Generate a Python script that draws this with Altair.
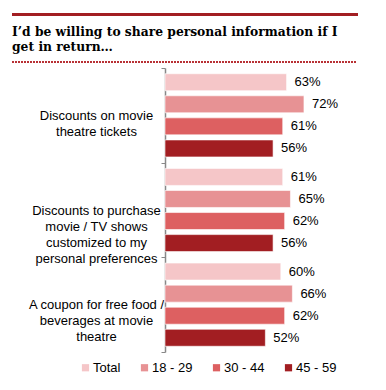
import altair as alt
import pandas as pd

categories = [
    "Discounts on movie|theatre tickets",
    "Discounts to purchase|movie / TV shows|customized to my|personal preferences",
    "A coupon for free food /|beverages at movie|theatre",
]
series = ["Total", "18 - 29", "30 - 44", "45 - 59"]
values = [
    [63, 72, 61, 56],
    [61, 65, 62, 56],
    [60, 66, 62, 52],
]
colors = ["#f5c6c8", "#e79294", "#dd6061", "#a21e22"]
title_lines = ["I\u2019d be willing to share personal information if I", "get in return\u2026"]

rows = []
for c, vals in zip(categories, values):
    for s, v in zip(series, vals):
        rows.append({"category": c, "series": s, "value": v / 100, "label": f"{v}%"})
df = pd.DataFrame(rows)

W, H = 193, 284

base = alt.Chart(df).encode(
    y=alt.Y("category:N", sort=categories, title=None,
            scale=alt.Scale(paddingInner=0, paddingOuter=0),
            axis=alt.Axis(labelExpr="split(datum.label, '|')", labelAlign="center",
                          labelBaseline="middle", labelPadding=65, labelFont="Liberation Sans",
                          labelFontSize=13, labelColor="#000000", labelLineHeight=16,
                          tickBand="extent", tickSize=4, tickColor="#888888",
                          domainColor="#888888", domainWidth=1.5, labelLimit=0)),
    yOffset=alt.YOffset("series:N", sort=series,
                        scale=alt.Scale(paddingInner=0.23, paddingOuter=0.26)),
)

bars = base.mark_bar(stroke="white", strokeWidth=0.6).encode(
    x=alt.X("value:Q", scale=alt.Scale(domain=[0, 1]), axis=None),
    color=alt.Color("series:N", sort=series,
                    scale=alt.Scale(domain=series, range=colors),
                    legend=alt.Legend(title=None, orient="none", direction="horizontal",
                                      legendX=-86, legendY=9 + H, symbolType="square",
                                      symbolSize=52, symbolStrokeWidth=0, labelFont="Liberation Sans",
                                      labelFontSize=13, labelColor="#000000", columnPadding=17,
                                      labelOffset=1, padding=0)),
)

texts = base.mark_text(align="left", baseline="middle", dx=8, font="Liberation Sans",
                       fontSize=13, color="#000000").encode(
    x=alt.X("value:Q"),
    text="label:N",
)

top_rule = alt.Chart(df).mark_rule(color="#a21e22", strokeWidth=2.2).encode(
    x=alt.value(-153), x2=alt.value(193), y=alt.value(-53.5)
)
dot_rule = alt.Chart(df).mark_rule(color="#b83236", strokeWidth=1.5, strokeDash=[2, 1]).encode(
    x=alt.value(-153), x2=alt.value(192), y=alt.value(-6)
)

chart = alt.layer(top_rule, dot_rule, bars, texts).properties(
    width=W, height=H,
    autosize=alt.AutoSizeParams(type="none"),
    padding={"left": 157, "top": 60, "right": 20, "bottom": 30},
    title=alt.Title(title_lines, anchor="start", frame="group", dx=-153, offset=0, dy=40,
                    font="DejaVu Serif", fontSize=12.3, fontWeight="bold", color="#000000",
                    lineHeight=15),
).configure_view(stroke=None)

chart.save("out.html", embed_options={"renderer": "svg", "actions": False})
